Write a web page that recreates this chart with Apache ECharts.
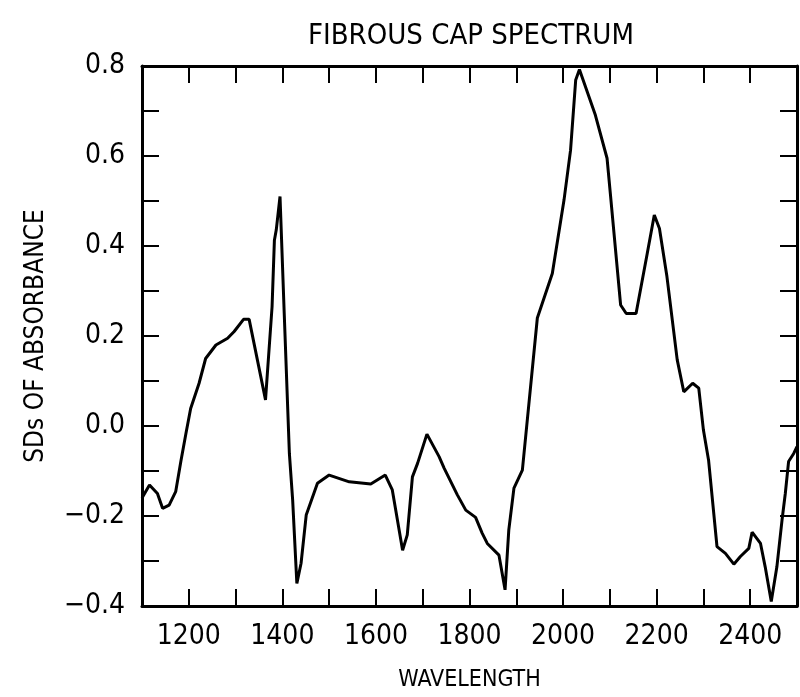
<!DOCTYPE html>
<html>
<head>
<meta charset="utf-8">
<script src="https://cdn.jsdelivr.net/npm/echarts@6/dist/echarts.min.js"></script>
<style>
html,body{margin:0;padding:0;background:#fff;}
#chart{width:800px;height:697px;}
</style>
</head>
<body>
<div id="chart"></div>
<script>
const titleText = 'FIBROUS CAP SPECTRUM';
const xAxisName = 'WAVELENGTH';
const yAxisName = 'SDs OF ABSORBANCE';

const wavelength = [
  1100, 1116, 1133, 1144, 1158, 1172, 1183, 1194, 1204, 1222,
  1236, 1258, 1283, 1297, 1317, 1329, 1364, 1378, 1383, 1387,
  1395, 1404, 1415, 1422, 1431, 1440, 1451, 1475, 1500, 1543,
  1589, 1620, 1635, 1657, 1667, 1678, 1689, 1709, 1735, 1746,
  1774, 1792, 1813, 1827, 1838, 1863, 1876, 1884, 1895, 1913,
  1945, 1977, 2002, 2016, 2027, 2035, 2069, 2094, 2101, 2123,
  2135, 2156, 2180, 2195, 2206, 2222, 2244, 2258, 2277, 2290,
  2300, 2311, 2329, 2347, 2365, 2379, 2397, 2404, 2422, 2432,
  2445, 2457, 2468, 2475, 2482, 2493, 2500
];
const sdAbsorbance = [
  -0.160, -0.131, -0.150, -0.183, -0.176, -0.146, -0.079, -0.016, 0.039, 0.095,
  0.150, 0.180, 0.195, 0.210, 0.237, 0.237, 0.058, 0.265, 0.413, 0.436,
  0.510, 0.250, -0.061, -0.164, -0.350, -0.305, -0.198, -0.127, -0.109, -0.124,
  -0.129, -0.109, -0.142, -0.276, -0.242, -0.113, -0.083, -0.018, -0.068, -0.094,
  -0.153, -0.187, -0.203, -0.238, -0.261, -0.287, -0.364, -0.231, -0.138, -0.098,
  0.240, 0.339, 0.502, 0.613, 0.769, 0.792, 0.691, 0.595, 0.517, 0.269,
  0.250, 0.250, 0.384, 0.469, 0.439, 0.332, 0.147, 0.076, 0.095, 0.084,
  -0.009, -0.076, -0.268, -0.283, -0.307, -0.290, -0.272, -0.236, -0.261, -0.313,
  -0.390, -0.313, -0.209, -0.150, -0.079, -0.061, -0.046
];

const FONT = "'Liberation Sans Narrow', 'DejaVu Sans Condensed', 'Liberation Sans', sans-serif";

const chart = echarts.init(document.getElementById('chart'), null, {renderer: 'canvas'});

const frameLine = {show: true, onZero: false, lineStyle: {color: '#000', width: 3}};
const tickStyle = {show: true, inside: true, length: 17, lineStyle: {color: '#000', width: 2}};

chart.setOption({
  animation: false,
  backgroundColor: '#fff',
  title: {
    text: titleText,
    left: 466,
    top: 17,
    textAlign: 'center',
    textStyle: {fontFamily: FONT, fontWeight: 'normal', fontSize: 29, color: '#000'}
  },
  grid: {left: 142, right: 3, top: 66, bottom: 91, containLabel: false},
  xAxis: [
    {
      type: 'value', min: 1100, max: 2500, interval: 100, position: 'bottom',
      name: xAxisName, nameLocation: 'middle', nameGap: 63,
      nameTextStyle: {fontFamily: FONT, fontSize: 23, color: '#000'},
      axisLine: frameLine, axisTick: tickStyle, splitLine: {show: false},
      axisLabel: {
        fontFamily: FONT, fontSize: 28, color: '#000', margin: 17,
        formatter: v => (v % 200 === 0 ? String(v) : '')
      }
    },
    {
      type: 'value', min: 1100, max: 2500, interval: 100, position: 'top',
      axisLine: frameLine, axisTick: tickStyle, splitLine: {show: false},
      axisLabel: {show: false}
    }
  ],
  yAxis: [
    {
      type: 'value', min: -0.4, max: 0.8, interval: 0.1, position: 'left',
      name: yAxisName, nameLocation: 'middle', nameGap: 93, nameRotate: 90,
      nameTextStyle: {fontFamily: FONT, fontSize: 26, color: '#000'},
      axisLine: frameLine, axisTick: tickStyle, splitLine: {show: false},
      axisLabel: {
        fontFamily: FONT, fontSize: 28, color: '#000', margin: 17,
        formatter: v => {
          const k = Math.round(v * 10);
          if (k % 2 !== 0) return '';
          return (k < 0 ? '\u2212' : '') + Math.abs(k / 10).toFixed(1);
        }
      }
    },
    {
      type: 'value', min: -0.4, max: 0.8, interval: 0.1, position: 'right',
      axisLine: frameLine, axisTick: tickStyle, splitLine: {show: false},
      axisLabel: {show: false}
    }
  ],
  series: [
    {
      type: 'line',
      xAxisIndex: 0, yAxisIndex: 0,
      data: wavelength.map((w, i) => [w, sdAbsorbance[i]]),
      showSymbol: false, symbol: 'none',
      lineStyle: {color: '#000', width: 3},
      clip: true
    }
  ]
});
</script>
</body>
</html>
